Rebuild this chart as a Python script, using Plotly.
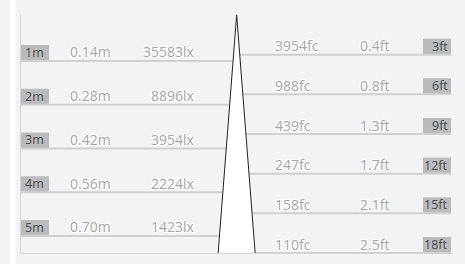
import plotly.graph_objects as go

# ---- data ----
dist_m = [1, 2, 3, 4, 5]
diam_m = [0.14, 0.28, 0.42, 0.56, 0.70]
lux = [35583, 8896, 3954, 2224, 1423]

dist_ft = [3, 6, 9, 12, 15, 18]
diam_ft = [0.4, 0.8, 1.3, 1.7, 2.1, 2.5]
fc = [3954, 988, 439, 247, 158, 110]

# ---- style ----
W, H = 465, 264
L, R, T, B = 21, 13, 15, 11
PW = W - L - R
PH = H - T - B
BG = "#f2f3f5"
LINE = "#cfd0d2"
BOX = "#b9bbbe"
BOXTXT = "#4a4a4a"
VALTXT = "#a5a5a5"
FONT = "Open Sans"
HALO = "1px 1px 0 #fff, -1px -1px 0 #fff, 1px -1px 0 #fff, -1px 1px 0 #fff"
BOX_H = 16  # px

Y_FT = [18, 0]
Y_M = [5.389, -0.051]
box_ft = BOX_H * (Y_FT[0] - Y_FT[1]) / PH
box_m = BOX_H * (Y_M[0] - Y_M[1]) / PH


def px(p):
    return (p - L) / PW


fig = go.Figure()

# cone (beam)
half = diam_ft[-1] / 2
fig.add_trace(go.Scatter(x=[0, -half, half, 0], y=[0, dist_ft[-1], dist_ft[-1], 0],
                         fill="toself", fillcolor="white", mode="none",
                         hoverinfo="skip", showlegend=False))
fig.add_trace(go.Scatter(x=[-half, 0, half], y=[dist_ft[-1], 0, dist_ft[-1]],
                         mode="lines", line=dict(color="#222", width=1),
                         hoverinfo="skip", showlegend=False))

shapes = []
annotations = []

# white gap strip at far left
shapes.append(dict(type="rect", xref="paper", yref="paper",
                   x0=px(10), x1=px(15.5), y0=-0.2, y1=1.2,
                   fillcolor="white", line=dict(width=0), layer="below"))

# left rows (metric)
for m, d, lx in zip(dist_m, diam_m, lux):
    shapes.append(dict(type="rect", xref="paper", yref="y2", x0=0, x1=px(49),
                       y0=m, y1=m - box_m,
                       fillcolor=BOX, line=dict(width=0), layer="below"))
    shapes.append(dict(type="line", xref="x", yref="y2", x0=-14.6, x1=0,
                       y0=m, y1=m, line=dict(color=LINE, width=2), layer="below"))
    annotations.append(dict(xref="paper", yref="y2", x=px(22.5), y=m, xanchor="left",
                            yanchor="middle", yshift=8.5, text=f"{m}m", showarrow=False,
                            font=dict(family=FONT, size=12.5, color=BOXTXT)))
    annotations.append(dict(xref="paper", yref="y2", x=px(90.5), y=m,
                            xanchor="center", yanchor="middle", yshift=9,
                            text=f"{d:.2f}m", showarrow=False,
                            font=dict(family=FONT, size=14, color=VALTXT, shadow=HALO)))
    annotations.append(dict(xref="paper", yref="y2", x=px(197), y=m,
                            xanchor="right", yanchor="middle", yshift=9,
                            text=f"{lx}lx", showarrow=False,
                            font=dict(family=FONT, size=14, color=VALTXT, shadow=HALO)))

# right rows (imperial)
for f, d, c in zip(dist_ft, diam_ft, fc):
    shapes.append(dict(type="rect", xref="paper", yref="y", x0=px(423), x1=px(451),
                       y0=f, y1=f - box_ft,
                       fillcolor=BOX, line=dict(width=0), layer="below"))
    shapes.append(dict(type="line", xref="x", yref="y", x0=0, x1=14.5,
                       y0=f, y1=f, line=dict(color=LINE, width=2), layer="below"))
    annotations.append(dict(xref="paper", yref="y", x=px(449.5), y=f, xanchor="right",
                            yanchor="middle", yshift=8.5, text=f"{f}ft", showarrow=False,
                            font=dict(family=FONT, size=12.5, color=BOXTXT)))
    annotations.append(dict(xref="paper", yref="y", x=px(273), y=f,
                            xanchor="left", yanchor="middle", yshift=9,
                            text=f"{c}fc", showarrow=False,
                            font=dict(family=FONT, size=14, color=VALTXT, shadow=HALO)))
    annotations.append(dict(xref="paper", yref="y", x=px(374.5), y=f,
                            xanchor="center", yanchor="middle", yshift=9,
                            text=f"{d}ft", showarrow=False,
                            font=dict(family=FONT, size=14, color=VALTXT, shadow=HALO)))

fig.update_layout(
    width=W, height=H,
    margin=dict(l=L, r=R, t=T, b=B, pad=0),
    paper_bgcolor=BG, plot_bgcolor=BG,
    showlegend=False,
    shapes=shapes, annotations=annotations,
    xaxis=dict(range=[-14.57, 14.55], showgrid=False, zeroline=False,
               showticklabels=False, ticks="", showline=True,
               linecolor="#d3d4d6", linewidth=1, mirror=False, fixedrange=True),
    yaxis=dict(range=Y_FT, showgrid=False, zeroline=False,
               showticklabels=False, ticks="", showline=True,
               linecolor="#d3d4d6", linewidth=1, fixedrange=True),
    yaxis2=dict(range=Y_M, overlaying="y", showgrid=False,
                zeroline=False, showticklabels=False, ticks="", showline=False,
                fixedrange=True),
)

fig.write_html("out.html", config={"displayModeBar": False},
               post_script="document.body.style.margin='0';document.body.style.overflow='hidden';")
